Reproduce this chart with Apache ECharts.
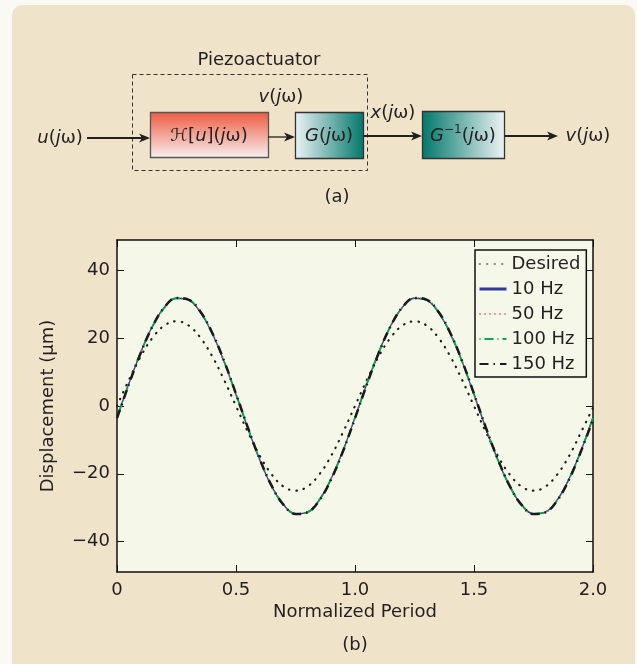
<!DOCTYPE html>
<html>
<head>
<meta charset="utf-8">
<script src="https://cdn.jsdelivr.net/npm/echarts@6.0.0/dist/echarts.min.js"></script>
<style>
  html, body { margin: 0; padding: 0; background: #fbf9f3; }
  #panel { position: absolute; left: 12px; top: 5px; width: 623px; height: 659px; background: #efe3c9; border-radius: 10px 10px 0 0; }
  #main { position: absolute; left: 0; top: 0; width: 637px; height: 664px; }
</style>
</head>
<body>
<div id="panel"></div>
<div id="main"></div>
<script>
// normalized period sample points
const xs = [0, 0.05, 0.1, 0.15, 0.2, 0.25, 0.3, 0.35, 0.4, 0.45, 0.5, 0.55, 0.6, 0.65, 0.7, 0.75, 0.8, 0.85, 0.9, 0.95,
  1.0, 1.05, 1.1, 1.15, 1.2, 1.25, 1.3, 1.35, 1.4, 1.45, 1.5, 1.55, 1.6, 1.65, 1.7, 1.75, 1.8, 1.85, 1.9, 1.95, 2.0];

// displacement (um)
const desired = [0, 7.7, 14.7, 20.2, 23.8, 25, 23.8, 20.2, 14.7, 7.7, 0, -7.7, -14.7, -20.2, -23.8, -25, -23.8, -20.2, -14.7, -7.7,
  0, 7.7, 14.7, 20.2, 23.8, 25, 23.8, 20.2, 14.7, 7.7, 0, -7.7, -14.7, -20.2, -23.8, -25, -23.8, -20.2, -14.7, -7.7, -0.5];
const hz10 = [-3.4, 6.6, 15.9, 23.7, 29.2, 31.8, 31.3, 27.7, 21.4, 13.1, 3.4, -6.6, -15.9, -23.7, -29.2, -31.8, -31.3, -27.7, -21.4, -13.1,
  -3.4, 6.6, 15.9, 23.7, 29.2, 31.8, 31.3, 27.7, 21.4, 13.1, 3.4, -6.6, -15.9, -23.7, -29.2, -31.8, -31.3, -27.7, -21.4, -13.1, -3.4];
const hz50 = [-3.2, 6.8, 16.0, 23.8, 29.3, 31.9, 31.2, 27.6, 21.3, 12.9, 3.2, -6.8, -16.0, -23.8, -29.3, -31.9, -31.2, -27.6, -21.3, -12.9,
  -3.2, 6.8, 16.0, 23.8, 29.3, 31.9, 31.2, 27.6, 21.3, 12.9, 3.2, -6.8, -16.0, -23.8, -29.3, -31.9, -31.2, -27.6, -21.3, -12.9, -3.6];
const hz100 = [-3.5, 6.5, 15.8, 23.6, 29.1, 31.8, 31.4, 27.8, 21.5, 13.2, 3.5, -6.5, -15.8, -23.6, -29.1, -31.8, -31.4, -27.8, -21.5, -13.2,
  -3.5, 6.5, 15.8, 23.6, 29.1, 31.8, 31.4, 27.8, 21.5, 13.2, 3.5, -6.5, -15.8, -23.6, -29.1, -31.8, -31.4, -27.8, -21.5, -13.2, -3.5];
const hz150 = [-3.6, 6.4, 15.7, 23.6, 29.2, 31.9, 31.4, 27.9, 21.6, 13.3, 3.6, -6.4, -15.7, -23.6, -29.2, -31.9, -31.4, -27.9, -21.6, -13.3,
  -3.6, 6.4, 15.7, 23.6, 29.2, 31.9, 31.4, 27.9, 21.6, 13.3, 3.6, -6.4, -15.7, -23.6, -29.2, -31.9, -31.4, -27.9, -21.6, -13.3, -4.0];

const seriesNames = ['Desired', '10 Hz', '50 Hz', '100 Hz', '150 Hz'];
const yTicks = [-40, -20, 0, 20, 40];

const FONT = 'DejaVu Sans';
const INK = '#231f20';

function pairs(arr) {
  return xs.map((x, i) => [x, arr[i]]);
}

// --- block diagram (a) helpers ---
const rich = {
  it: { fontStyle: 'italic', fontFamily: FONT, fontSize: 18, fill: INK, lineHeight: 24 },
  n: { fontFamily: FONT, fontSize: 18, fill: INK, lineHeight: 24 },
  sup: { fontFamily: FONT, fontSize: 12, fill: INK, verticalAlign: 'top', lineHeight: 24 }
};
function label(x, y, text) {
  return {
    type: 'text', x: x, y: y, z: 10,
    style: { text: text, rich: rich, fontFamily: FONT, fontSize: 18, fill: INK, align: 'center', verticalAlign: 'middle' }
  };
}
function arrow(x1, x2, y, w) {
  return [
    { type: 'line', z: 5, shape: { x1: x1, y1: y, x2: x2 - 8, y2: y }, style: { stroke: '#231f20', lineWidth: w } },
    { type: 'polygon', z: 5, shape: { points: [[x2, y], [x2 - 11, y - 4.5], [x2 - 8, y], [x2 - 11, y + 4.5]] }, style: { fill: '#231f20' } }
  ];
}
const teal = '#00786b', pale = '#eef3f6';

const diagram = [
  label(259, 60, 'Piezoactuator'),
  { type: 'rect', z: 3, shape: { x: 132.5, y: 74.5, width: 235, height: 96 }, style: { fill: 'none', stroke: '#333', lineWidth: 1, lineDash: [4, 3] } },
  { type: 'rect', z: 4, shape: { x: 150.5, y: 112.5, width: 118, height: 45 },
    style: { fill: { type: 'linear', x: 0, y: 0, x2: 0, y2: 1, colorStops: [{ offset: 0, color: '#ee5a40' }, { offset: 1, color: '#f6f1f1' }] }, stroke: '#555', lineWidth: 1.3 } },
  { type: 'rect', z: 4, shape: { x: 295.5, y: 112.5, width: 68, height: 46 },
    style: { fill: { type: 'linear', x: 0, y: 0, x2: 1, y2: 0, colorStops: [{ offset: 0, color: pale }, { offset: 1, color: teal }] }, stroke: '#333', lineWidth: 1.3 } },
  { type: 'rect', z: 4, shape: { x: 422.5, y: 111.5, width: 82, height: 47 },
    style: { fill: { type: 'linear', x: 0, y: 0, x2: 1, y2: 0, colorStops: [{ offset: 0, color: teal }, { offset: 1, color: pale }] }, stroke: '#333', lineWidth: 1.3 } },
  label(60, 138, '{it|u}{n|(}{it|j}{n|ω)}'),
  label(209, 136, '{it|ℋ}{n|[}{it|u}{n|](}{it|j}{n|ω)}'),
  label(281, 97, '{it|v}{n|(}{it|j}{n|ω)}'),
  label(329, 136, '{it|G}{n|(}{it|j}{n|ω)}'),
  label(393, 113, '{it|x}{n|(}{it|j}{n|ω)}'),
  label(463, 136, '{it|G}{sup|−1}{n|(}{it|j}{n|ω)}'),
  label(588, 136, '{it|v}{n|(}{it|j}{n|ω)}'),
  label(337, 197, '(a)'),
  label(355, 645, '(b)')
].concat(arrow(87, 150, 138, 2), arrow(268, 295, 137, 1.3), arrow(364, 422, 136, 2), arrow(505, 558, 136, 2));

const chart = echarts.init(document.getElementById('main'));

const axisLine = { show: true, onZero: false, lineStyle: { color: '#111', width: 1.5 } };
const tickStyle = { inside: true, length: 7, lineStyle: { color: '#111', width: 1 } };

chart.setOption({
  animation: false,
  backgroundColor: 'transparent',
  textStyle: { fontFamily: FONT, color: INK },
  graphic: diagram,
  grid: { left: 117, right: 44, top: 240, bottom: 92, show: true, backgroundColor: '#f5f8e9', borderWidth: 0 },
  legend: {
    orient: 'vertical', left: 475, top: 250,
    backgroundColor: '#f5f8e9', borderColor: '#111', borderWidth: 1.5,
    padding: [5, 6, 4, 3], itemWidth: 27, itemHeight: 12, itemGap: 7,
    itemStyle: { opacity: 0 },
    textStyle: { fontFamily: FONT, fontSize: 18, color: INK },
    data: [
      { name: 'Desired', lineStyle: { color: '#888' } },
      { name: '10 Hz', lineStyle: { width: 3 } },
      '50 Hz', '100 Hz', '150 Hz'
    ]
  },
  xAxis: [
    {
      type: 'value', min: 0, max: 2, interval: 0.5,
      name: 'Normalized Period', nameLocation: 'middle', nameGap: 31,
      nameTextStyle: { fontFamily: FONT, fontSize: 18, color: INK },
      axisLine: axisLine, axisTick: tickStyle, splitLine: { show: false },
      axisLabel: { margin: 9, fontFamily: FONT, fontSize: 18, color: INK, showMinLabel: true, showMaxLabel: true,
        formatter: v => (v === 0 ? '0' : v.toFixed(1)) }
    },
    {
      type: 'value', position: 'top', min: 0, max: 2, interval: 0.5,
      axisLine: axisLine, axisTick: tickStyle, axisLabel: { show: false }, splitLine: { show: false }
    }
  ],
  yAxis: [
    {
      type: 'value', min: -49, max: 49,
      name: 'Displacement (μm)', nameLocation: 'middle', nameGap: 60,
      nameTextStyle: { fontFamily: FONT, fontSize: 18, color: INK },
      axisLine: axisLine, splitLine: { show: false },
      axisTick: Object.assign({ customValues: yTicks }, tickStyle),
      axisLabel: { customValues: yTicks, margin: 7, fontFamily: FONT, fontSize: 18, color: INK,
        formatter: v => (v < 0 ? '\u2212' + (-v) : String(v)) }
    },
    {
      type: 'value', position: 'right', min: -49, max: 49,
      axisLine: axisLine, splitLine: { show: false },
      axisTick: Object.assign({ customValues: yTicks }, tickStyle),
      axisLabel: { show: false }
    }
  ],
  series: [
    { name: seriesNames[0], type: 'line', data: pairs(desired), symbol: 'none', smooth: 0.4,
      lineStyle: { color: '#1e1e1e', width: 2.2, type: [0.5, 7], cap: 'round' }, itemStyle: { color: '#1e1e1e' } },
    { name: seriesNames[1], type: 'line', data: pairs(hz10), symbol: 'none', smooth: 0.4,
      lineStyle: { color: '#2b3a9b', width: 1.3, type: 'solid' }, itemStyle: { color: '#2b3a9b' } },
    { name: seriesNames[2], type: 'line', data: pairs(hz50), symbol: 'none', smooth: 0.4,
      lineStyle: { color: '#e8483c', width: 1.5, type: [1, 4] }, itemStyle: { color: '#e8483c' } },
    { name: seriesNames[3], type: 'line', data: pairs(hz100), symbol: 'none', smooth: 0.4,
      lineStyle: { color: '#00a651', width: 1.8, type: [1, 4, 9, 4] }, itemStyle: { color: '#00a651' } },
    { name: seriesNames[4], type: 'line', data: pairs(hz150), symbol: 'none', smooth: 0.4,
      lineStyle: { color: '#1a1a1a', width: 2.5, type: [9, 5, 1.5, 5] }, itemStyle: { color: '#1a1a1a' } }
  ]
});
</script>
</body>
</html>
